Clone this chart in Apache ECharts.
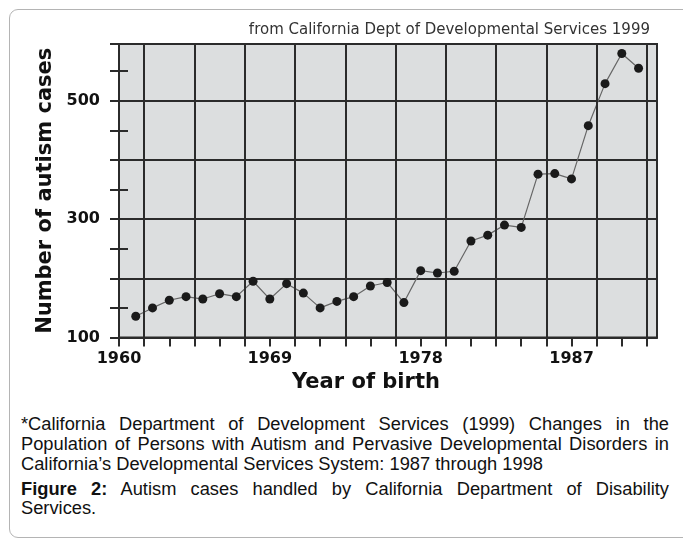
<!DOCTYPE html>
<html>
<head>
<meta charset="utf-8">
<script src="https://cdn.jsdelivr.net/npm/echarts@6.0.0/dist/echarts.min.js"></script>
<style>
  html, body { margin: 0; padding: 0; background: #fff; }
  body { width: 683px; height: 539px; position: relative; overflow: hidden; }
  /* 外框卡片 */
  .card {
    position: absolute; left: 9px; top: 9px; width: 720px; height: 527px;
    border: 1px solid #b4b4b4; border-radius: 9px;
  }
  #chart { position: absolute; left: 0; top: 0; width: 683px; height: 400px; }
  .cap {
    position: absolute; left: 21px; width: 648px;
    font-family: 'Liberation Sans', Arial, sans-serif; font-size: 18.3px; line-height: 20px;
    color: #111; text-align: justify; text-align-last: justify;
  }
  .cap.last { text-align-last: left; }
</style>
</head>
<body>
<div class="card"></div>
<div id="chart"></div>
<div class="cap" style="top:414px">*California Department of Development Services (1999) Changes in the</div>
<div class="cap" style="top:434px">Population of Persons with Autism and Pervasive Developmental Disorders in</div>
<div class="cap last" style="top:454px">California’s Developmental Services System: 1987 through 1998</div>
<div class="cap" style="top:479px"><b>Figure 2:</b> Autism cases handled by California Department of Disability</div>
<div class="cap last" style="top:498px">Services.</div>

<script>
// data
const years = [1961, 1962, 1963, 1964, 1965, 1966, 1967, 1968, 1969, 1970,
  1971, 1972, 1973, 1974, 1975, 1976, 1977, 1978, 1979, 1980,
  1981, 1982, 1983, 1984, 1985, 1986, 1987, 1988, 1989, 1990, 1991]
const cases = [136, 150, 163, 169, 165, 174, 169, 195, 165, 191,
  175, 150, 161, 169, 187, 193, 159, 213, 209, 212,
  263, 273, 290, 286, 376, 377, 368, 458, 529, 580, 555]

// axis settings
const yearLabels = [1960, 1969, 1978, 1987]
const caseLabels = [100, 300, 500]
const gridYears = [1961.5, 1964.5, 1967.5, 1970.5, 1973.5, 1976.5, 1979.5, 1982.5, 1985.5, 1988.5, 1991.5]

const dark = '#2b2b2b'
const boldFont = "'DejaVu Sans', Verdana, sans-serif"

const chart = echarts.init(document.getElementById('chart'))

chart.setOption({
  animation: false,
  title: {
    text: 'from California Dept of Developmental Services 1999',
    right: 33,
    top: 23,
    padding: 0,
    textStyle: {
      fontFamily: "'DejaVu Sans', sans-serif",
      fontWeight: 'normal',
      fontSize: 15,
      color: '#333'
    }
  },
  grid: {
    left: 119, top: 44, right: 26, bottom: 62.5,
    show: true,
    backgroundColor: '#dcdedf',
    borderColor: dark,
    borderWidth: 2
  },
  xAxis: {
    type: 'value',
    min: 1960,
    max: 1992.1,
    interval: 1.5,
    axisLine: { lineStyle: { color: dark, width: 2 } },
    axisTick: { length: 9, lineStyle: { color: dark, width: 2 } },
    splitLine: { show: false },
    axisLabel: {
      margin: 13,
      color: '#111',
      fontFamily: boldFont,
      fontWeight: 'bold',
      fontSize: 16,
      showMaxLabel: false,
      formatter: v => yearLabels.some(y => Math.abs(y - v) < 0.01) ? String(Math.round(v)) : ''
    }
  },
  yAxis: [
    {
      type: 'value',
      min: 100,
      max: 596,
      interval: 50,
      name: 'Number of autism cases',
      nameLocation: 'middle',
      nameGap: 62,
      nameTextStyle: { fontFamily: boldFont, fontWeight: 'bold', fontSize: 21, color: '#111' },
      axisLine: { show: true, lineStyle: { color: dark, width: 2 } },
      axisTick: { length: 9, lineStyle: { color: dark, width: 2 } },
      splitLine: { show: false },
      axisLabel: {
        margin: 19,
        color: '#111',
        fontFamily: boldFont,
        fontWeight: 'bold',
        fontSize: 16,
        formatter: v => caseLabels.includes(v) ? String(v) : ''
      }
    },
    {
      // 网格横线 + 内侧短刻度
      type: 'value',
      min: 100,
      max: 596,
      interval: 100,
      position: 'left',
      axisLine: { show: false },
      axisLabel: { show: false },
      axisTick: { show: true, inside: true, length: 9, lineStyle: { color: dark, width: 2 } },
      minorTick: { show: true, splitNumber: 2, length: 9, lineStyle: { color: dark, width: 2 } },
      splitLine: { show: true, lineStyle: { color: dark, width: 2 } }
    }
  ],
  graphic: [{
    type: 'text',
    style: {
      x: 366, y: 383,
      text: 'Year of birth',
      align: 'center',
      verticalAlign: 'middle',
      font: "bold 21px 'DejaVu Sans', Verdana, sans-serif",
      fill: '#111'
    }
  }],
  series: [
    {
      // 竖向网格线
      type: 'line',
      data: [],
      z: 1,
      silent: true,
      markLine: {
        silent: true,
        symbol: 'none',
        label: { show: false },
        lineStyle: { color: dark, width: 2, type: 'solid' },
        data: gridYears.map(y => ({ xAxis: y }))
      }
    },
    {
      type: 'line',
      z: 3,
      data: years.map((y, i) => [y, cases[i]]),
      symbol: 'circle',
      symbolSize: 9,
      itemStyle: { color: '#1a1a1a' },
      lineStyle: { color: '#666', width: 1.2 }
    }
  ]
})
</script>
</body>
</html>
